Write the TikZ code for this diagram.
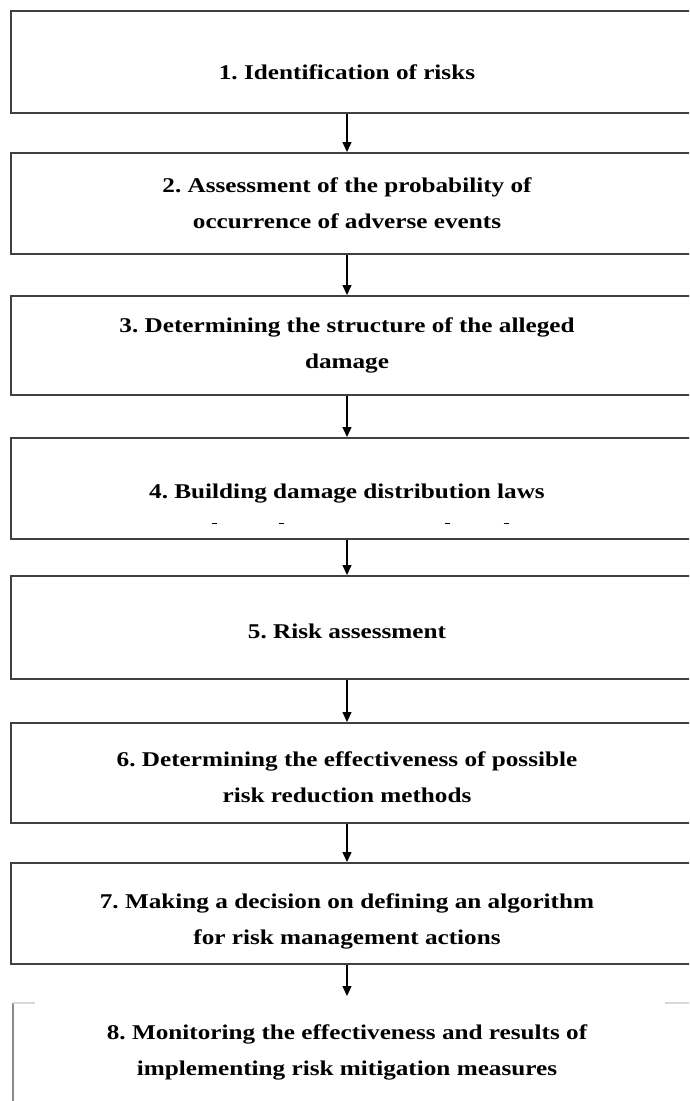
\documentclass[tikz,border=0pt]{standalone}
\usepackage{fontspec}
\setmainfont{Liberation Serif}[FakeStretch=1.2]
\usetikzlibrary{arrows.meta, positioning}

\begin{document}
\frenchspacing
\begin{tikzpicture}[x=1pt, y=-1pt,
	box/.style={rectangle, draw=black!75, line width=1.6pt, anchor=north west, minimum width=700pt},
	txt/.style={align=center, font=\bfseries\fontsize{21}{36}\selectfont},
	flow/.style={-{Triangle[length=10pt,width=9pt]}, line width=1.3pt}]
	\useasboundingbox (0,0) rectangle (689,1101);
	\clip (0,0) rectangle (689,1101);

	\node (b1)[box, minimum height=102pt] at (10,  10) {};
	\node (b2)[box, minimum height=101pt] at (10, 152) {};
	\node (b3)[box, minimum height=99pt]  at (10, 295) {};
	\node (b4)[box, minimum height=101pt] at (10, 437) {};
	\node (b5)[box, minimum height=103pt] at (10, 575) {};
	\node (b6)[box, minimum height=100pt] at (10, 722) {};
	\node (b7)[box, minimum height=101pt] at (10, 862) {};
	\node (b8)[box, draw=none, minimum height=120pt] at (13, 1003) {};

	\node (t1)[txt, anchor=base] at (347,  79) {1. Identification of risks};
	\node (t2)[txt] at (347, 203) {2. Assessment of the probability of\\occurrence of adverse events};
	\node (t3)[txt] at (347, 345) {3. Determining the structure of the alleged\\damage};
	\node (t4)[txt, anchor=base] at (347, 498) {4. Building damage distribution laws};
	\node (t5)[txt, anchor=base] at (347, 638) {5. Risk assessment};
	\node (t6)[txt] at (347, 777) {6. Determining the effectiveness of possible\\risk reduction methods};
	\node (t7)[txt] at (347, 921) {7. Making a decision on defining an algorithm\\for risk management actions};
	\node (t8)[txt] at (347, 1052) {8. Monitoring the effectiveness and results of\\implementing risk mitigation measures};

	% box 8 is only partly drawn
	\draw[black!45, line width=1.6pt] (b8.north west) -- (b8.south west);
	\draw[black!15, line width=1.2pt] (b8.north west) -- ++(22,0);
	\draw[black!15, line width=1.2pt] (b8.north west) ++(652,0) -- ++(30,0);

	% stray marks under step 4
	\foreach \dx in {214, 281, 447, 506}
		\draw[line width=1pt] (\dx-2.5, 523) -- (\dx+2.5, 523);

	\draw[flow] (t1 |- b1.south) -- (t1 |- b2.north);
	\draw[flow] (t2 |- b2.south) -- (t2 |- b3.north);
	\draw[flow] (t3 |- b3.south) -- (t3 |- b4.north);
	\draw[flow] (t4 |- b4.south) -- (t4 |- b5.north);
	\draw[flow] (t5 |- b5.south) -- (t5 |- b6.north);
	\draw[flow] (t6 |- b6.south) -- (t6 |- b7.north);
	\draw[flow, shorten >=7pt] (t7 |- b7.south) -- (t7 |- b8.north);
\end{tikzpicture}
\end{document}
